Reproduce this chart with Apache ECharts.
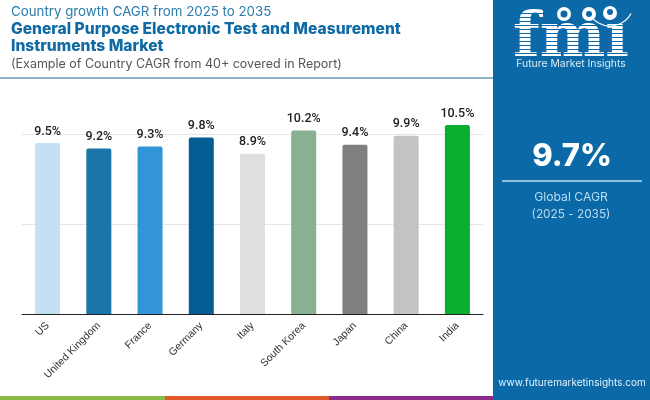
<!DOCTYPE html>
<html>
<head>
<meta charset="utf-8">
<style>html,body{margin:0;padding:0;background:#fff}#chart{width:650px;height:400px}</style>
<script src="https://cdn.jsdelivr.net/npm/echarts@6/dist/echarts.min.js"></script>
</head>
<body>
<div id="chart"></div>
<script>
var countries = ["US", "United Kingdom", "France", "Germany", "Italy", "South Korea", "Japan", "China", "India"];
var cagrValues = [9.5, 9.2, 9.3, 9.8, 8.9, 10.2, 9.4, 9.9, 10.5];
var barColors = ["#c3e1f3", "#1a75a9", "#3295d8", "#045d92", "#dfdfdf", "#88b091", "#7f7f7f", "#c3c3c3", "#0aad30"];

var panel = "#0b69a8";
var head = "'Inter','Noto Sans',sans-serif";

function text(str, x, y, size, color, weight, align) {
    return {type: "text", x: x, y: y, silent: true, style: {
        text: str, fontSize: size, fill: color, fontWeight: weight || 400,
        fontFamily: head, textAlign: align || "left", textVerticalAlign: "middle"
    }};
}

function box(x, y, w, h, color) {
    return {type: "rect", silent: true, shape: {x: x, y: y, width: w, height: h}, style: {fill: color}};
}

function dot(x, y, r, color) {
    return {type: "circle", silent: true, shape: {cx: x, cy: y, r: r}, style: {fill: color}};
}

var shapes = [
    box(0, 77, 493, 2, "#8fb4c9"),
    box(0, 396, 165, 4, "#8cbb45"),
    box(165, 396, 164, 4, "#e0592b"),
    box(329, 396, 164, 4, "#8e2a8b"),
    box(493, 0, 157, 400, panel),
    text("Country growth CAGR from 2025 to 2035", 11, 12, 13.3, "#2b7cab"),
    text("General Purpose Electronic Test and Measurement", 11, 29, 15.6, "#0f6aa3", 800),
    text("Instruments Market", 11, 46, 15.6, "#0f6aa3", 800),
    text("(Example of Country CAGR from 40+ covered in Report)", 11, 64, 12.5, "#555555"),
    // logo, dotless i because the globe icon sits where the dot would be
    {type: "text", x: 571, y: 40, silent: true, style: {
        text: "fmı", fontSize: 62, fontWeight: 700, fill: "#ffffff",
        fontFamily: "'DejaVu Serif',serif", textAlign: "center", textVerticalAlign: "middle"
    }}
];
// stripes through the logo letters
for (var y = 13; y < 58; y += 4) {
    shapes.push(box(515, y, 112, 1, panel));
}
shapes.push(
    dot(564, 14, 7, "#ffffff"), dot(564, 14, 3.5, panel),
    dot(589, 14, 7, "#ffffff"), dot(589, 14, 3, panel),
    dot(610, 13, 7, "#ffffff"), dot(610, 12, 3, panel),
    {type: "arc", silent: true, shape: {cx: 610, cy: 2, r: 24, startAngle: 0.5, endAngle: 2.4},
        style: {stroke: "#ffffff", lineWidth: 1.2, fill: null}},
    text("Future Market Insights", 571, 64, 10.4, "#d8ebf7", 400, "center"),
    text("9.7%", 572, 157, 31, "#ffffff", 800, "center"),
    box(502, 180, 140, 2, "#8cbfe0"),
    text("Global CAGR", 571, 197, 12.2, "#b9dcf2", 400, "center"),
    text("(2025 - 2035)", 571, 214, 11.8, "#b9dcf2", 400, "center"),
    text("www.futuremarketinsights.com", 572, 383, 10, "#e6f2fa", 400, "center")
);

var chart = echarts.init(document.getElementById("chart"), null, {renderer: "canvas"});
chart.setOption({
    animation: false,
    backgroundColor: "#ffffff",
    grid: {left: 22, top: 116, width: 461, height: 198, containLabel: false},
    xAxis: {
        type: "category", data: countries,
        axisTick: {show: false},
        axisLine: {lineStyle: {color: "#222222", width: 1}},
        axisLabel: {rotate: 45, interval: 0, margin: 10, fontSize: 10.5, color: "#333333", fontFamily: "'Liberation Sans',sans-serif"}
    },
    yAxis: {
        type: "value", min: 0, max: 11, interval: 5,
        axisLine: {show: false}, axisTick: {show: false}, axisLabel: {show: false},
        splitLine: {show: true, showMaxLine: false, lineStyle: {color: "#e6e6e6", width: 1}}
    },
    series: [{
        type: "bar", barWidth: 25,
        data: cagrValues.map(function(v, i) {return {value: v, itemStyle: {color: barColors[i], borderRadius: [2, 2, 0, 0]}}}),
        label: {
            show: true, position: "top", distance: 5, color: "#222222",
            fontSize: 12.5, fontWeight: 500, fontFamily: "Roboto,sans-serif",
            formatter: function(p) {return p.value.toFixed(1) + "%"}
        }
    }],
    graphic: {elements: shapes}
});
</script>
</body>
</html>
